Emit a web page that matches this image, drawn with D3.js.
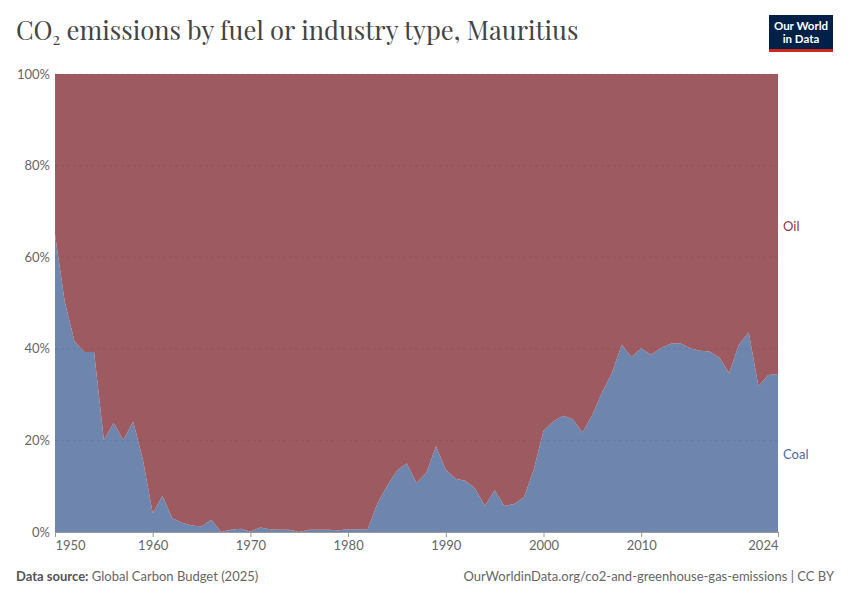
<!DOCTYPE html>
<html>
<head>
<meta charset="utf-8">
<script src="https://cdn.jsdelivr.net/npm/d3@7"></script>
<style>
  body { margin: 0; background: #fff; }
  svg { font-family: Lato, "Open Sans", sans-serif; }
</style>
</head>
<body>
<svg id="chart" width="850" height="600"></svg>
<script>
// data, share of CO2 emissions (%)
const years = d3.range(1950, 2025);
const coal = [
  65.0, 50.3, 41.6, 39.3, 39.3, 20.1, 23.8, 20.1, 24.1, 15.8,
  4.1, 7.9, 3.0, 2.0, 1.4, 1.2, 2.7, 0.0, 0.5, 0.7,
  0.1, 1.0, 0.6, 0.5, 0.5, 0.0, 0.5, 0.5, 0.5, 0.4,
  0.6, 0.6, 0.6, 6.2, 10.1, 13.4, 15.0, 10.7, 12.9, 18.7,
  13.6, 11.6, 11.2, 9.5, 5.7, 9.1, 5.7, 6.1, 7.6, 13.6,
  22.1, 24.1, 25.4, 24.6, 21.7, 25.6, 30.5, 34.7, 40.9, 38.2,
  40.1, 38.7, 40.1, 41.1, 41.2, 40.1, 39.6, 39.4, 38.1, 34.7,
  40.9, 43.6, 31.8, 34.3, 34.5
];
const oil = [
  35.0, 49.7, 58.4, 60.7, 60.7, 79.9, 76.2, 79.9, 75.9, 84.2,
  95.9, 92.1, 97.0, 98.0, 98.6, 98.8, 97.3, 100.0, 99.5, 99.3,
  99.9, 99.0, 99.4, 99.5, 99.5, 100.0, 99.5, 99.5, 99.5, 99.6,
  99.4, 99.4, 99.4, 93.8, 89.9, 86.6, 85.0, 89.3, 87.1, 81.3,
  86.4, 88.4, 88.8, 90.5, 94.3, 90.9, 94.3, 93.9, 92.4, 86.4,
  77.9, 75.9, 74.6, 75.4, 78.3, 74.4, 69.5, 65.3, 59.1, 61.8,
  59.9, 61.3, 59.9, 58.9, 58.8, 59.9, 60.4, 60.6, 61.9, 65.3,
  59.1, 56.4, 68.2, 65.7, 65.5
];
const seriesNames = ["Coal", "Oil"];
const seriesColors = ["#6e86ad", "#9e5a61"];
const labelColors = ["#4a6a9e", "#8e3a48"];
const yTicks = [0, 20, 40, 60, 80, 100];
const xTicks = [1950, 1960, 1970, 1980, 1990, 2000, 2010, 2024];

const svg = d3.select("#chart");
const margin = { top: 74, right: 72, bottom: 68, left: 55 };
const width = 850 - margin.left - margin.right;
const height = 600 - margin.top - margin.bottom;

const table = years.map((y, i) => ({ year: y, Coal: coal[i], Oil: oil[i] }));
const stack = d3.stack().keys(seriesNames).offset(d3.stackOffsetExpand);
const layers = stack(table);

const x = d3.scaleLinear().domain([1950, 2024]).range([0, width]);
const yScale = d3.scaleLinear().domain([0, 1]).range([height, 0]);

// title
svg.append("text")
  .attr("x", 16).attr("y", 40)
  .style("font-family", "'Playfair Display', 'Liberation Serif', 'DejaVu Serif', serif")
  .style("font-size", "25.6px")
  .style("fill", "#444")
  .html("CO<tspan font-size='16' dy='5'>2</tspan><tspan dy='-5'> emissions by fuel or industry type, Mauritius</tspan>");

// logo
const logo = svg.append("g").attr("transform", "translate(769,15)");
logo.append("rect").attr("width", 64).attr("height", 37).attr("fill", "#002147");
logo.append("rect").attr("y", 34).attr("width", 64).attr("height", 3).attr("fill", "#ce261e");
logo.append("text").attr("x", 32).attr("y", 15).attr("text-anchor", "middle")
  .style("font-size", "11.5px").style("fill", "#fff").style("font-weight", "bold").text("Our World");
logo.append("text").attr("x", 32).attr("y", 28).attr("text-anchor", "middle")
  .style("font-size", "11.5px").style("fill", "#fff").style("font-weight", "bold").text("in Data");

const g = svg.append("g").attr("transform", `translate(${margin.left},${margin.top})`);

// areas
const area = d3.area()
  .x((d) => x(d.data.year))
  .y0((d) => yScale(d[0]))
  .y1((d) => yScale(d[1]));

g.selectAll(".layer")
  .data(layers)
  .join("path")
  .attr("class", "layer")
  .attr("fill", (d, i) => seriesColors[i])
  .attr("d", area);

// gridlines on top, faint dashed
g.selectAll(".grid")
  .data(yTicks.filter((t) => t > 0))
  .join("line")
  .attr("class", "grid")
  .attr("x1", 0).attr("x2", width)
  .attr("y1", (d) => yScale(d / 100)).attr("y2", (d) => yScale(d / 100))
  .attr("stroke", "#000").attr("stroke-opacity", 0.08)
  .attr("stroke-dasharray", "3,3");

// y labels
g.selectAll(".ylab")
  .data(yTicks)
  .join("text")
  .attr("class", "ylab")
  .attr("x", -5)
  .attr("y", (d) => yScale(d / 100))
  .attr("dy", "0.35em")
  .attr("text-anchor", "end")
  .style("font-size", "13px")
  .style("fill", "#666")
  .text((d) => d + "%");

// x axis
const xAxis = g.append("g")
  .attr("transform", `translate(0,${height})`)
  .call(d3.axisBottom(x).tickValues(xTicks).tickFormat(d3.format("d")).tickSize(5).tickPadding(4));
xAxis.select(".domain").attr("stroke", "#999");
xAxis.selectAll(".tick line").attr("stroke", "#999");
xAxis.selectAll(".tick text")
  .attr("text-anchor", (d) => (d === 1950 ? "start" : d === 2024 ? "end" : "middle"))
  .style("font-family", "Lato, sans-serif")
  .style("font-size", "13px")
  .style("fill", "#666");

// series labels
layers.forEach((layer, i) => {
  const labY = seriesNames[i] === "Coal" ? 0.17 : 0.667;
  g.append("text")
    .attr("x", width + 5)
    .attr("y", yScale(labY))
    .attr("dy", "0.35em")
    .style("font-size", "13px")
    .style("fill", labelColors[i])
    .text(seriesNames[i]);
});

// footer
svg.append("text")
  .attr("x", 16).attr("y", 581)
  .style("font-size", "13px").style("fill", "#666")
  .html("<tspan font-weight='bold' fill='#555'>Data source:</tspan> Global Carbon Budget (2025)");
svg.append("text")
  .attr("x", 834).attr("y", 581)
  .attr("text-anchor", "end")
  .style("font-size", "13px").style("fill", "#666")
  .text("OurWorldinData.org/co2-and-greenhouse-gas-emissions | CC BY");
</script>
</body>
</html>
